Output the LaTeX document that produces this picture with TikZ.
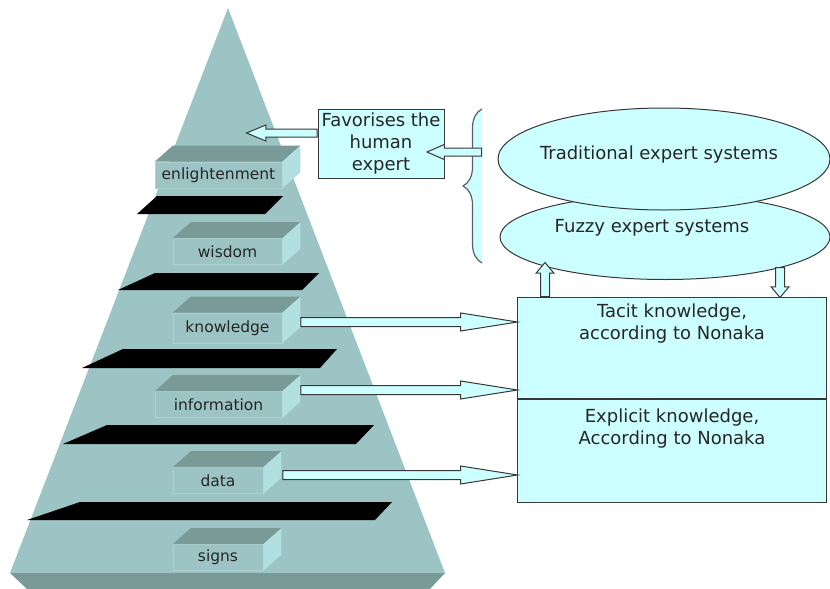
\documentclass[tikz,border=0pt]{standalone}
\usepackage{fontspec}
\setmainfont{DejaVu Sans}
\usetikzlibrary{shapes.geometric, shapes.arrows, arrows.meta, positioning, calc, decorations.pathreplacing}

\definecolor{pyrcol}{RGB}{156,196,196}
\definecolor{topcol}{RGB}{122,154,152}
\definecolor{sidecol}{RGB}{178,224,224}
\definecolor{edgecol}{RGB}{172,210,210}
\definecolor{boxcyan}{RGB}{204,255,255}
\definecolor{linecol}{RGB}{55,55,55}

\newcommand{\layerfont}{\fontsize{15.5}{18}\selectfont}
\newcommand{\boxfont}{\fontsize{18}{22}\selectfont}

\tikzset{
  layer/.style={fill=pyrcol, draw=edgecol, line width=0.6pt, minimum height=26, inner sep=0pt, font=\layerfont, text=black!85},
  shelf/.style={fill=black},
  cyanbox/.style={draw=linecol, fill=boxcyan, line width=1pt, inner sep=0pt},
  cloud/.style={ellipse, draw=linecol, fill=boxcyan, line width=1pt, inner sep=0pt},
  boxtext/.style={font=\boxfont, align=center, text=black!85},
  blockarrow/.style={single arrow, draw=linecol, fill=boxcyan, line width=1pt, inner xsep=0pt, inner ysep=4pt, minimum width=0pt, single arrow head extend=4.5pt, single arrow head indent=0pt},
  curly/.style={decoration={brace, amplitude=19}, decorate},
}

% top and side faces of a layer
\newcommand{\layerdepth}[1]{%
  \fill[topcol] (#1.north west) -- ++(18,-16) -- ($(#1.north east)+(18,-16)$) -- (#1.north east) -- cycle;
  \fill[sidecol] (#1.north east) -- ++(18,-16) -- ($(#1.south east)+(18,-16)$) -- (#1.south east) -- cycle;}

% hollow block arrow from #2 to #3
\newcommand{\fatarrow}[3][]{%
  \path let \p1=($(#3)-(#2)$), \n1={veclen(\x1,\y1)}, \n2={atan2(\y1,\x1)} in
    node[blockarrow, #1, minimum height=\n1, rotate=\n2, anchor=tail] at (#2) {};}

\begin{document}
\begin{tikzpicture}[x=1pt,y=-1pt]
\useasboundingbox (0,0) rectangle (830,589);

% Pyramid
\fill[pyrcol] (228,8) -- (445,573) -- (10,573) -- cycle;
\fill[topcol] (10,573) -- (445,573) -- (430,589) -- (27,589) -- cycle;

% Shelves
\fill[shelf] (157,196) -- (283,196) -- (265,214) -- (137,214) -- cycle;
\fill[shelf] (155,273) -- (319,273) -- (302,290) -- (118,290) -- cycle;
\fill[shelf] (123,349) -- (337,349) -- (320,368) -- (82,368) -- cycle;
\fill[shelf] (107,425) -- (374,425) -- (356,444) -- (63,444) -- cycle;
\fill[shelf] (80,502) -- (392,502) -- (375,520) -- (27,520) -- cycle;

% Layers
\node[layer, minimum width=127] (enl) at (218.5,175) {enlightenment};
\layerdepth{enl}
\node[layer, minimum width=109] (wis) at (227.5,251.5) {wisdom};
\layerdepth{wis}
\node[layer, minimum width=109, minimum height=30] (know) at (227.5,328) {knowledge};
\layerdepth{know}
\node[layer, minimum width=127] (info) at (218.5,404.5) {information};
\layerdepth{info}
\node[layer, minimum width=90] (data) at (218,480.5) {data};
\layerdepth{data}
\node[layer, minimum width=90] (signs) at (218,557.5) {signs};
\layerdepth{signs}

% Human expert
\node[cyanbox, boxtext, minimum width=126, minimum height=69] (fav) at (381,143.5) {Favorises the\\human\\expert};
\coordinate (favout) at ($(fav.west)+(0,-10.5)$);
\coordinate (favtip) at (247,133);
\fatarrow[inner ysep=3.5pt, single arrow head extend=4pt, single arrow tip angle=45]{favout}{favtip}

% Expert systems
\node[cloud, minimum width=330, minimum height=85] (fuzzy) at (665,237) {};
\node[boxtext] (fuzzytxt) at (652,228) {Fuzzy expert systems};
\node[cloud, minimum width=332, minimum height=102] (trad) at (664,159) {};
\node[boxtext] (tradtxt) at (659,155) {Traditional expert systems};
\fill[boxcyan, curly] (482,263) -- (482,109);
\draw[linecol!80, line width=1.2pt, curly] (482,263) -- (482,109);
\coordinate (bracemid) at (482,152);
\coordinate (bracetip) at ($(fav.east)+(-17,8.5)$);
\fatarrow[inner ysep=3.5pt, single arrow head extend=3.5pt, single arrow tip angle=47]{bracemid}{bracetip}

% Nonaka
\node[cyanbox, minimum width=309, minimum height=101, anchor=north west] (tacit) at (517,297) {};
\node[cyanbox, minimum width=309, minimum height=103, anchor=north west] (explicit) at (tacit.south west) {};
\node[boxtext] (tacittxt) at ($(tacit.north)+(0,27)$) {Tacit knowledge,\\according to Nonaka};
\node[boxtext] (explicittxt) at ($(explicit.north)+(0,30)$) {Explicit knowledge,\\According to Nonaka};

\coordinate (upfoot) at ($(tacit.north west)+(28,0)$);
\coordinate (uptip) at (545,263);
\coordinate (downfoot) at (780,267);
\coordinate (downtip) at (downfoot |- tacit.north);
\fatarrow[single arrow tip angle=80]{upfoot}{uptip}
\fatarrow[single arrow tip angle=80]{downfoot}{downtip}

% Layers to Nonaka
\coordinate (knowout) at ($(know.east)+(18,-6)$);
\coordinate (infoout) at ($(info.east)+(18,-14.5)$);
\coordinate (dataout) at ($(data.east)+(19,-5.5)$);
\coordinate (knowin) at (knowout -| tacit.west);
\coordinate (infoin) at (infoout -| tacit.west);
\coordinate (datain) at (dataout -| explicit.west);
\fatarrow[single arrow tip angle=18]{knowout}{knowin}
\fatarrow[single arrow tip angle=18]{infoout}{infoin}
\fatarrow[single arrow tip angle=18]{dataout}{datain}
\end{tikzpicture}
\end{document}
